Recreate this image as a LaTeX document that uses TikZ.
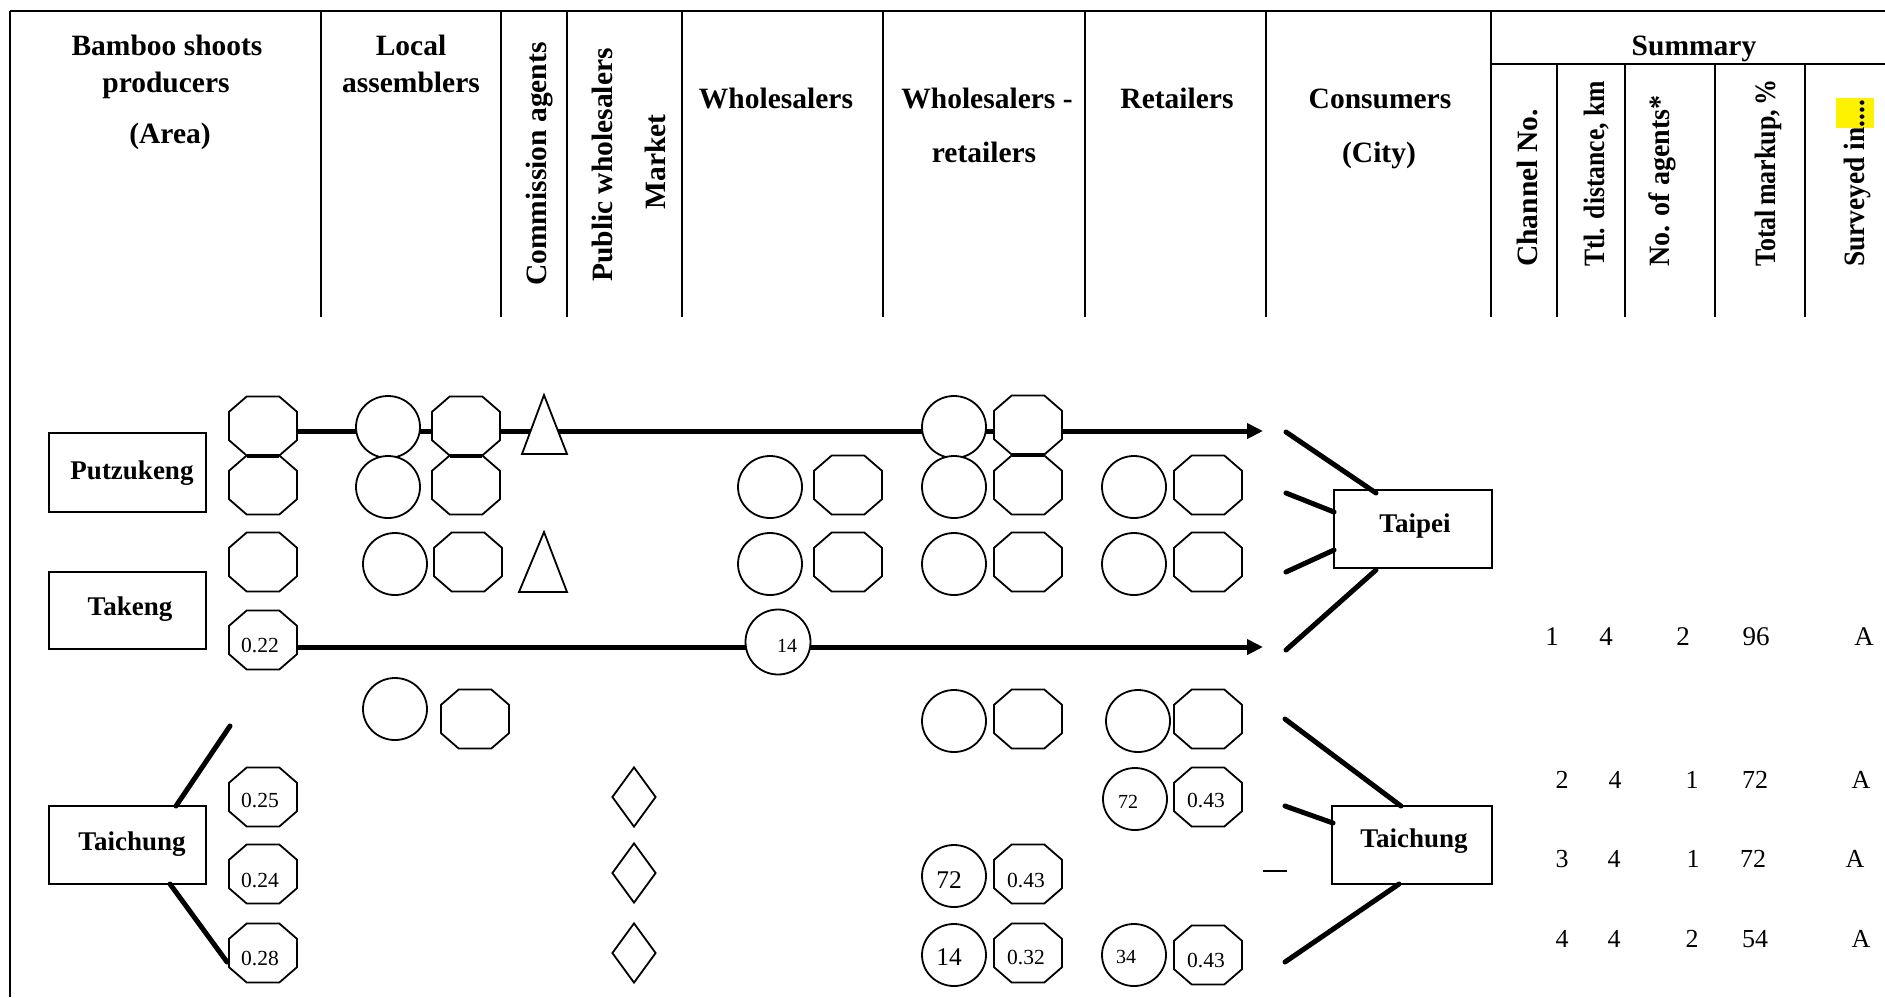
\documentclass[tikz,border=0pt]{standalone}
\usepackage{fontspec}
\setmainfont{Liberation Serif}
\usepackage{graphicx}
\usetikzlibrary{shapes.geometric,arrows.meta}
\pgfdeclarelayer{bg}
\pgfsetlayers{bg,main}
\makeatletter
\pgfdeclareshape{octa}{%
  \inheritsavedanchors[from=rectangle]%
  \inheritanchorborder[from=rectangle]%
  \inheritanchor[from=rectangle]{center}%
  \inheritanchor[from=rectangle]{north}%
  \inheritanchor[from=rectangle]{south}%
  \inheritanchor[from=rectangle]{east}%
  \inheritanchor[from=rectangle]{west}%
  \inheritanchor[from=rectangle]{north east}%
  \inheritanchor[from=rectangle]{north west}%
  \inheritanchor[from=rectangle]{south east}%
  \inheritanchor[from=rectangle]{south west}%
  \inheritanchor[from=rectangle]{base}%
  \inheritanchor[from=rectangle]{mid}%
  \backgroundpath{%
    \southwest \pgf@xa=\pgf@x \pgf@ya=\pgf@y
    \northeast \pgf@xb=\pgf@x \pgf@yb=\pgf@y
    \pgf@xc=\pgf@xb \advance\pgf@xc by-\pgf@xa \pgf@xc=0.26\pgf@xc
    \pgf@yc=\pgf@yb \advance\pgf@yc by-\pgf@ya \pgf@yc=0.26\pgf@yc
    \pgfpathmoveto{\pgfqpoint{\dimexpr\pgf@xa+\pgf@xc\relax}{\pgf@ya}}%
    \pgfpathlineto{\pgfqpoint{\dimexpr\pgf@xb-\pgf@xc\relax}{\pgf@ya}}%
    \pgfpathlineto{\pgfqpoint{\pgf@xb}{\dimexpr\pgf@ya+\pgf@yc\relax}}%
    \pgfpathlineto{\pgfqpoint{\pgf@xb}{\dimexpr\pgf@yb-\pgf@yc\relax}}%
    \pgfpathlineto{\pgfqpoint{\dimexpr\pgf@xb-\pgf@xc\relax}{\pgf@yb}}%
    \pgfpathlineto{\pgfqpoint{\dimexpr\pgf@xa+\pgf@xc\relax}{\pgf@yb}}%
    \pgfpathlineto{\pgfqpoint{\pgf@xa}{\dimexpr\pgf@yb-\pgf@yc\relax}}%
    \pgfpathlineto{\pgfqpoint{\pgf@xa}{\dimexpr\pgf@ya+\pgf@yc\relax}}%
    \pgfpathclose
  }%
}
\makeatother
\tikzset{
 myrule/.style={line width=2pt},
 myhdr/.style={font=\bfseries\fontsize{29.5}{35}\selectfont, inner sep=0pt},
 mylbl/.style={font=\bfseries\fontsize{27}{30}\selectfont, inner sep=0pt, anchor=base},
 mysum/.style={font=\fontsize{26}{30}\selectfont, inner sep=0pt, anchor=base},
 myarea/.style={draw, line width=2pt, inner sep=0pt},
 myoct/.style={shape=octa, draw, fill=white, line width=1.8pt, minimum width=68pt, minimum height=59pt, inner sep=0pt, outer sep=0pt},
 mycirc/.style={ellipse, draw, fill=white, line width=1.8pt, minimum width=64pt, minimum height=62pt, inner sep=0pt, outer sep=0pt},
 mydia/.style={diamond, draw, fill=white, line width=1.8pt, minimum width=44pt, minimum height=60pt, inner sep=0pt},
 mytri/.style={draw, fill=white, line width=1.8pt},
 myflow/.style={line width=5pt},
 mylink/.style={line width=5pt, line cap=round},
 myedge/.style={line width=4pt},
 nsm/.style={font=\fontsize{20}{24}\selectfont, inner sep=0pt, anchor=base},
 noc/.style={font=\fontsize{21.5}{24}\selectfont, inner sep=0pt, anchor=base},
 nbg/.style={font=\fontsize{25.5}{28}\selectfont, inner sep=0pt, anchor=base},
}
\begin{document}
\begin{tikzpicture}[x=1pt,y=-1pt]
\useasboundingbox (0,0) rectangle (1885,997);
% ---------- table frame ----------
\draw[myrule, line width=2.5pt] (9.5,11) -- (1885,11);
\draw[myrule] (9.5,11) -- (9.5,997);
\foreach \x in {321,501,567,681.5,883,1085,1266,1491} \draw[myrule] (\x,11) -- (\x,317);
\draw[myrule] (1491,64) -- (1885,64);
\foreach \x in {1557,1625,1715,1805} \draw[myrule] (\x,64) -- (\x,317);
\fill[yellow] (1836,98) rectangle (1874,128);
% ---------- header texts ----------
\node[myhdr, anchor=base] (hb1) at (167,55) {Bamboo shoots};
\node[myhdr, anchor=base] (hb2) at (166,92) {producers};
\node[myhdr, anchor=base] (hb3) at (170,143) {(Area)};
\node[myhdr, anchor=base] (hl1) at (411,55) {Local};
\node[myhdr, anchor=base] (hl2) at (411,92) {assemblers};
\node[myhdr, anchor=base, rotate=90] (hca) at (546,164) {Commission agents};
\node[myhdr, anchor=base, rotate=90] (hpw) at (612,165) {Public wholesalers};
\node[myhdr, anchor=base, rotate=90] (hmk) at (665,162) {Market};
\node[myhdr, anchor=base] (hws) at (776,108) {Wholesalers};
\node[myhdr, anchor=base] (hwr1) at (987,108) {Wholesalers -};
\node[myhdr, anchor=base] (hwr2) at (984,162) {retailers};
\node[myhdr, anchor=base] (hrt) at (1177,108) {Retailers};
\node[myhdr, anchor=base] (hcn1) at (1380,108) {Consumers};
\node[myhdr, anchor=base] (hcn2) at (1379,162) {(City)};
\node[myhdr, anchor=base] (hsum) at (1694,55) {Summary};
\node[myhdr, anchor=base west, rotate=90] (hs1) at (1537,267) {Channel No.};
\node[myhdr, anchor=base west, rotate=90] (hs2) at (1604,267) {\scalebox{0.87}[1]{Ttl. distance, km}};
\node[myhdr, anchor=base west, rotate=90] (hs3) at (1669,267) {\scalebox{0.95}[1]{No. of agents*}};
\node[myhdr, anchor=base west, rotate=90] (hs4) at (1775,267) {\scalebox{0.88}[1]{Total\,markup,\,\%}};
\node[myhdr, anchor=base west, rotate=90] (hs5) at (1864,267) {\scalebox{0.93}[1]{Surveyed in....}};
% ---------- area / city boxes ----------
\node[myarea, minimum width=157pt, minimum height=79pt] (putz) at (127.5,472.5) {};
\node[myarea, minimum width=157pt, minimum height=77pt] (take) at (127.5,610.5) {};
\node[myarea, minimum width=157pt, minimum height=78pt] (taip) at (127.5,845) {};
\node[myarea, minimum width=158pt, minimum height=78pt] (taipei) at (1413,529) {};
\node[myarea, minimum width=160pt, minimum height=78pt] (taic) at (1412,845) {};
\node[mylbl] (tputz) at (132,479) {Putzukeng};
\node[mylbl] (ttake) at (130,615) {Takeng};
\node[mylbl] (ttaip) at (132,850) {Taichung};
\node[mylbl] (ttaipei) at (1415,532) {Taipei};
\node[mylbl] (ttaic) at (1414,847) {Taichung};
% ---------- row 1 ----------
\node[myoct] (p1) at (263,426) {};
\node[mycirc] (la1c) at (388,427) {};
\node[myoct] (la1o) at (466,426) {};
\coordinate (t1a) at (544,395); \coordinate (t1b) at (567,454); \coordinate (t1c) at (522,454);
\draw[mytri] (t1a) -- (t1b) -- (t1c) -- cycle;
\node[mycirc] (wr1c) at (954,427) {};
\node[myoct] (wr1o) at (1028,425) {};
% ---------- row 2 ----------
\node[myoct] (p2) at (263,485) {};
\node[mycirc] (la2c) at (388,487) {};
\node[myoct] (la2o) at (466,485) {};
\node[mycirc] (w2c) at (770,487) {};
\node[myoct] (w2o) at (848,485) {};
\node[mycirc] (wr2c) at (954,487) {};
\node[myoct] (wr2o) at (1028,485) {};
\node[mycirc] (r2c) at (1134,487) {};
\node[myoct] (r2o) at (1208,485) {};
% ---------- row 3 ----------
\node[myoct] (p3) at (263,562) {};
\node[mycirc] (la3c) at (395,564) {};
\node[myoct] (la3o) at (468,562) {};
\coordinate (t3a) at (544,532); \coordinate (t3b) at (567,592); \coordinate (t3c) at (519,592);
\draw[mytri] (t3a) -- (t3b) -- (t3c) -- cycle;
\node[mycirc] (w3c) at (770,564) {};
\node[myoct] (w3o) at (848,562) {};
\node[mycirc] (wr3c) at (954,564) {};
\node[myoct] (wr3o) at (1028,562) {};
\node[mycirc] (r3c) at (1134,564) {};
\node[myoct] (r3o) at (1208,562) {};
% ---------- row 4 ----------
\node[myoct] (p4) at (263,640) {};
\node[mycirc, minimum width=65pt, minimum height=65pt] (w4c) at (778,642) {};
% ---------- row 5 ----------
\node[mycirc] (la5c) at (395,709) {};
\node[myoct] (la5o) at (475,719) {};
\node[mycirc] (wr5c) at (954,721) {};
\node[myoct] (wr5o) at (1028,719) {};
\node[mycirc] (r5c) at (1138,721) {};
\node[myoct] (r5o) at (1208,719) {};
% ---------- row 6 ----------
\node[myoct] (p6) at (263,797) {};
\node[mydia] (d6) at (634,797) {};
\node[mycirc] (r6c) at (1135,799) {};
\node[myoct] (r6o) at (1208,797) {};
% ---------- row 7 ----------
\node[myoct] (p7) at (263,874) {};
\node[mydia] (d7) at (634,873) {};
\node[mycirc] (wr7c) at (954,876) {};
\node[myoct] (wr7o) at (1028,874) {};
% ---------- row 8 ----------
\node[myoct] (p8) at (263,953) {};
\node[mydia] (d8) at (634,953) {};
\node[mycirc] (wr8c) at (954,955) {};
\node[myoct] (wr8o) at (1028,953) {};
\node[mycirc] (r8c) at (1134,955) {};
\node[myoct] (r8o) at (1208,955) {};
% ---------- numbers in shapes ----------
\node[noc] (n4) at (260,652) {0.22};
\node[nsm] (n4c) at (787,652) {14};
\node[noc] (n6) at (260,807) {0.25};
\node[noc] (n7) at (260,887) {0.24};
\node[noc] (n8) at (260,965) {0.28};
\node[nsm] (n6c) at (1128,808) {72};
\node[noc] (n6o) at (1206,807) {0.43};
\node[nbg] (n7c) at (949,888) {72};
\node[noc] (n7o) at (1026,887) {0.43};
\node[nbg] (n8c) at (949,965) {14};
\node[noc] (n8o) at (1026,964) {0.32};
\node[nsm] (n8r) at (1126,963) {34};
\node[noc] (n8q) at (1206,967) {0.43};
% ---------- shared octagon edges ----------
\draw[myedge] ([xshift=17.7pt]p1.south west) -- ([xshift=-17.7pt]p1.south east);
\draw[myedge] ([xshift=17.7pt]la1o.south west) -- ([xshift=-17.7pt]la1o.south east);
\draw[myedge] ([xshift=17.7pt]wr1o.south west) -- ([xshift=-17.7pt]wr1o.south east);
% ---------- flow lines ----------
\coordinate (arr1) at (1263,431);
\coordinate (arr4) at (1263,647);
\begin{pgfonlayer}{bg}
\draw[myflow, -{Triangle[length=16pt,width=15pt]}] ([yshift=-5pt]p1.east) -- (arr1);
\draw[myflow, -{Triangle[length=16pt,width=15pt]}] ([yshift=-7pt]p4.east) -- (arr4);
\end{pgfonlayer}
% ---------- links to cities ----------
\coordinate (ta1) at (1286,432); \coordinate (ta1e) at (1376,493);
\coordinate (ta2) at (1286,493); \coordinate (ta2e) at (1334,512);
\coordinate (ta3) at (1286,572); \coordinate (ta3e) at (1334,550);
\coordinate (ta4) at (1286,650); \coordinate (ta4e) at (1376,570);
\draw[mylink] (ta1) -- (ta1e);
\draw[mylink] (ta2) -- (ta2e);
\draw[mylink] (ta3) -- (ta3e);
\draw[mylink] (ta4) -- (ta4e);
\coordinate (tc1) at (1285,719); \coordinate (tc1e) at (1401,806);
\coordinate (tc2) at (1285,806); \coordinate (tc2e) at (1333,823);
\coordinate (tc3) at (1285,962); \coordinate (tc3e) at (1399,884);
\draw[mylink] (tc1) -- (tc1e);
\draw[mylink] (tc2) -- (tc2e);
\draw[mylink] (tc3) -- (tc3e);
\coordinate (dsa) at (1263,871); \coordinate (dsb) at (1287,871);
\draw[line width=1.5pt] (dsa) -- (dsb);
% ---------- producer Taichung links ----------
\coordinate (pt1) at (176,806); \coordinate (pt1e) at (230,726);
\coordinate (pt2) at (170,884); \coordinate (pt2e) at (227,962);
\draw[mylink] (pt1) -- (pt1e);
\draw[mylink] (pt2) -- (pt2e);
% ---------- summary values ----------
\node[mysum, font=\fontsize{27}{30}\selectfont] (s11) at (1552,645) {1};
\node[mysum, font=\fontsize{27}{30}\selectfont] (s12) at (1606,645) {4};
\node[mysum, font=\fontsize{27}{30}\selectfont] (s13) at (1683,645) {2};
\node[mysum, font=\fontsize{27}{30}\selectfont] (s14) at (1756,645) {96};
\node[mysum, font=\fontsize{27}{30}\selectfont] (s15) at (1864,645) {A};
\node[mysum] (s21) at (1562,788) {2};
\node[mysum] (s22) at (1615,788) {4};
\node[mysum] (s23) at (1692,788) {1};
\node[mysum] (s24) at (1755,788) {72};
\node[mysum] (s25) at (1861,788) {A};
\node[mysum] (s31) at (1562,867) {3};
\node[mysum] (s32) at (1614,867) {4};
\node[mysum] (s33) at (1693,867) {1};
\node[mysum] (s34) at (1753,867) {72};
\node[mysum] (s35) at (1855,867) {A};
\node[mysum] (s41) at (1562,947) {4};
\node[mysum] (s42) at (1614,947) {4};
\node[mysum] (s43) at (1692,947) {2};
\node[mysum] (s44) at (1755,947) {54};
\node[mysum] (s45) at (1861,947) {A};
\end{tikzpicture}
\end{document}
